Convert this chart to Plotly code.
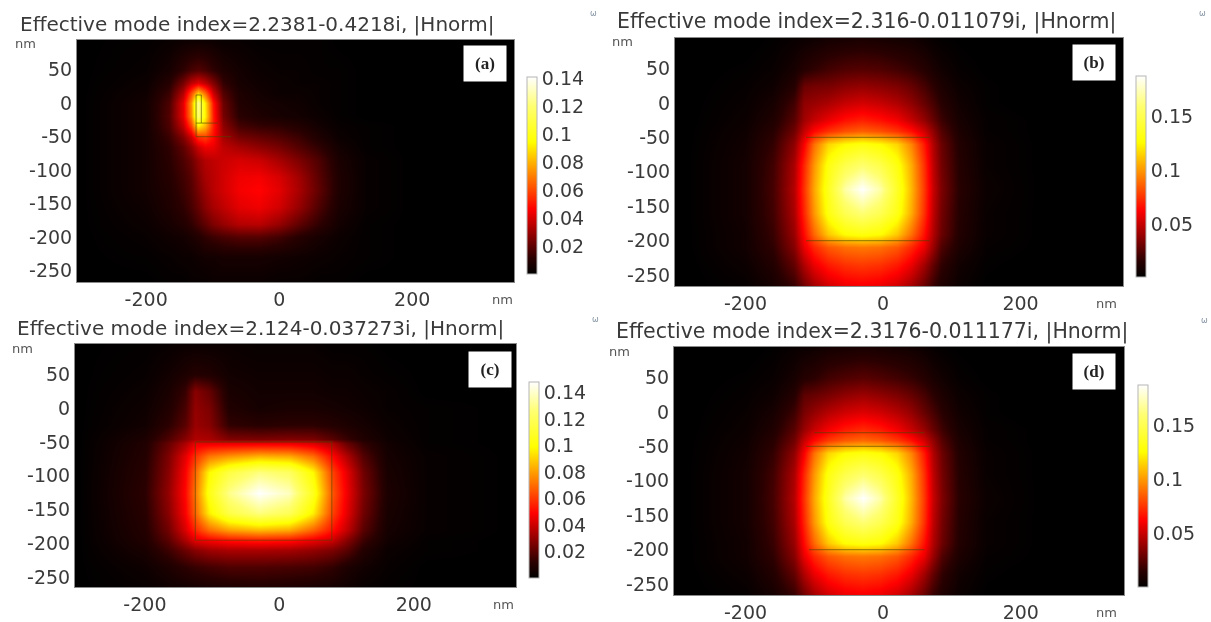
import plotly.graph_objects as go

W, H = 1211, 622
FONT = "DejaVu Sans"
TEXT = "#3a3a3a"

# --- data -----------------------------------------------------------------
COLORS = [[0, "#000000"], [0.08, "#2a0000"], [0.33, "#ff0000"], [0.5, "#ff8000"],
          [0.67, "#ffff00"], [0.85, "#ffff70"], [1, "#ffffff"]]

titles = ["Effective mode index=2.2381-0.4218i, |Hnorm|",
          "Effective mode index=2.316-0.011079i, |Hnorm|",
          "Effective mode index=2.124-0.037273i, |Hnorm|",
          "Effective mode index=2.3176-0.011177i, |Hnorm|"]
labels = ["(a)", "(b)", "(c)", "(d)"]
x_ticks = [-200, 0, 200]
x_tick_text = ["-200", "0", "200"]
y_ticks = [50, 0, -50, -100, -150, -200, -250]
y_tick_text = ["50", "0", "-50", "-100", "-150", "-200", "-250"]
cb_ticks_fine = [0.02, 0.04, 0.06, 0.08, 0.1, 0.12, 0.14]
cb_text_fine = ["0.02", "0.04", "0.06", "0.08", "0.1", "0.12", "0.14"]
cb_ticks_coarse = [0.05, 0.1, 0.15]
cb_text_coarse = ["0.05", "0.1", "0.15"]

xa = [-300, -200, -165, -145, -132, -122, -112, -100, -85, -60, -30, 0, 30, 60, 90, 130, 200, 350]
ya = [95, 50, 30, 15, 0, -20, -35, -50, -65, -85, -110, -130, -155, -180, -200, -230, -265]
za = [
    [0, .001, .002, .003, .003, .003, .003, .003, .002, .002, .001, .001, .001, .001, 0, 0, 0, 0],
    [0, .002, .006, .012, .016, .018, .016, .012, .008, .005, .003, .002, .002, .001, .001, 0, 0, 0],
    [0, .003, .010, .024, .036, .042, .036, .026, .013, .006, .004, .003, .002, .002, .001, 0, 0, 0],
    [0, .004, .014, .034, .060, .085, .066, .038, .018, .008, .005, .003, .003, .002, .001, 0, 0, 0],
    [0, .005, .017, .042, .074, .125, .090, .050, .022, .009, .006, .005, .004, .002, .001, 0, 0, 0],
    [0, .005, .018, .042, .072, .120, .092, .052, .024, .011, .008, .006, .005, .003, .001, 0, 0, 0],
    [0, .005, .017, .036, .058, .092, .080, .052, .028, .016, .013, .012, .009, .005, .002, .001, 0, 0],
    [0, .005, .014, .026, .038, .055, .058, .048, .032, .024, .021, .018, .014, .008, .003, .001, 0, 0],
    [0, .005, .012, .020, .028, .038, .044, .043, .036, .032, .028, .024, .018, .012, .005, .001, 0, 0],
    [0, .005, .011, .017, .022, .029, .034, .036, .038, .040, .038, .032, .025, .017, .007, .002, 0, 0],
    [0, .005, .010, .015, .019, .026, .032, .035, .039, .044, .045, .040, .031, .019, .008, .002, 0, 0],
    [0, .005, .009, .014, .018, .024, .030, .035, .039, .045, .047, .042, .032, .020, .008, .002, 0, 0],
    [0, .004, .008, .012, .016, .021, .027, .032, .036, .042, .044, .039, .029, .017, .007, .002, 0, 0],
    [0, .003, .006, .009, .012, .016, .020, .025, .029, .034, .035, .029, .020, .012, .005, .001, 0, 0],
    [0, .002, .004, .005, .007, .009, .012, .014, .016, .018, .018, .015, .010, .006, .003, .001, 0, 0],
    [0, .001, .002, .003, .003, .004, .005, .005, .006, .006, .006, .005, .004, .003, .002, .001, 0, 0],
    [0, 0, .001, .001, .002, .002, .002, .003, .003, .003, .003, .002, .002, .001, .001, 0, 0, 0],
]

xb = [-300, -200, -160, -130, -115, -100, -80, -55, -30, -5, 20, 40, 60, 72, 85, 110, 150, 230, 350]
yb = [95, 50, 25, 0, -25, -40, -60, -90, -125, -160, -190, -210, -235, -265]
zb = [
    [0, 0, .002, .004, .005, .006, .008, .009, .010, .009, .008, .007, .005, .003, .002, .001, 0, 0, 0],
    [0, .002, .004, .009, .014, .017, .021, .024, .025, .024, .021, .018, .014, .010, .007, .003, .001, 0, 0],
    [0, .003, .006, .014, .030, .032, .033, .037, .039, .037, .034, .029, .022, .016, .011, .005, .002, 0, 0],
    [0, .004, .009, .021, .038, .040, .044, .050, .053, .050, .045, .038, .029, .022, .015, .007, .002, 0, 0],
    [0, .005, .012, .026, .042, .050, .058, .066, .070, .066, .060, .050, .039, .029, .020, .009, .003, .001, 0],
    [0, .006, .015, .031, .050, .064, .074, .082, .086, .082, .075, .066, .052, .038, .025, .011, .003, .001, 0],
    [0, .007, .018, .038, .062, .090, .115, .125, .130, .125, .115, .095, .068, .045, .030, .013, .004, .001, 0],
    [0, .008, .021, .044, .072, .100, .130, .148, .158, .148, .130, .105, .074, .048, .032, .014, .004, .001, 0],
    [0, .008, .022, .046, .075, .104, .135, .170, .187, .170, .137, .108, .076, .050, .034, .015, .005, .001, 0],
    [0, .008, .021, .044, .072, .100, .130, .150, .160, .150, .132, .105, .074, .048, .032, .014, .004, .001, 0],
    [0, .007, .019, .040, .065, .088, .112, .126, .130, .126, .112, .090, .066, .045, .030, .013, .004, .001, 0],
    [0, .007, .017, .036, .058, .072, .084, .090, .092, .090, .084, .072, .058, .040, .024, .011, .003, .001, 0],
    [0, .005, .013, .028, .045, .058, .068, .074, .076, .074, .068, .058, .042, .028, .017, .007, .002, 0, 0],
    [0, .003, .009, .019, .032, .043, .053, .059, .061, .059, .053, .043, .030, .019, .012, .005, .001, 0, 0],
]

xc = [-300, -200, -165, -140, -125, -105, -75, -30, 15, 50, 78, 100, 125, 160, 220, 350]
yc = [95, 50, 25, 0, -25, -45, -52, -70, -95, -125, -155, -180, -195, -210, -235, -265]
zc = [
    [0, .001, .002, .003, .003, .003, .003, .002, .002, .002, .001, .001, .001, 0, 0, 0],
    [0, .002, .005, .008, .010, .009, .005, .004, .004, .004, .003, .003, .002, .001, 0, 0],
    [0, .003, .007, .014, .028, .022, .007, .005, .005, .005, .004, .004, .003, .002, 0, 0],
    [0, .004, .009, .017, .030, .026, .009, .006, .007, .007, .006, .005, .004, .002, .001, 0],
    [0, .005, .012, .020, .031, .028, .013, .011, .012, .012, .010, .008, .006, .003, .001, 0],
    [0, .008, .018, .028, .035, .034, .027, .026, .027, .026, .020, .014, .009, .004, .001, 0],
    [0, .009, .022, .034, .045, .045, .045, .045, .045, .042, .035, .022, .013, .005, .001, 0],
    [0, .010, .026, .044, .058, .072, .078, .084, .082, .070, .050, .035, .019, .006, .002, 0],
    [0, .011, .028, .048, .068, .098, .115, .128, .122, .098, .062, .044, .024, .007, .002, 0],
    [0, .012, .030, .050, .072, .104, .130, .148, .138, .106, .066, .046, .026, .008, .002, 0],
    [0, .011, .028, .048, .068, .096, .116, .128, .120, .096, .062, .044, .024, .007, .002, 0],
    [0, .010, .024, .042, .056, .070, .080, .085, .082, .068, .052, .038, .020, .006, .002, 0],
    [0, .009, .020, .034, .044, .048, .052, .054, .052, .046, .040, .028, .015, .005, .001, 0],
    [0, .007, .015, .023, .028, .032, .034, .034, .033, .030, .026, .020, .010, .003, .001, 0],
    [0, .004, .008, .012, .014, .016, .018, .018, .017, .016, .013, .008, .005, .002, 0, 0],
    [0, .002, .004, .005, .006, .007, .008, .009, .008, .007, .006, .004, .002, .001, 0, 0],
]

xd = [-300, -200, -160, -130, -115, -100, -80, -55, -30, -5, 20, 40, 60, 72, 85, 110, 150, 230, 350]
yd = [95, 50, 25, 0, -25, -40, -60, -90, -125, -160, -190, -210, -235, -265]
zd = [
    [0, 0, .002, .004, .005, .006, .008, .009, .010, .009, .008, .007, .005, .003, .002, .001, 0, 0, 0],
    [0, .002, .004, .009, .014, .016, .021, .024, .026, .024, .021, .018, .014, .010, .007, .003, .001, 0, 0],
    [0, .003, .006, .014, .027, .029, .033, .038, .041, .038, .034, .029, .022, .016, .011, .005, .002, 0, 0],
    [0, .004, .009, .020, .033, .039, .046, .052, .055, .052, .046, .039, .029, .022, .015, .007, .002, 0, 0],
    [0, .005, .012, .026, .040, .050, .060, .068, .072, .068, .060, .050, .039, .029, .020, .009, .003, .001, 0],
    [0, .006, .015, .031, .050, .064, .076, .084, .088, .084, .076, .066, .052, .038, .025, .011, .003, .001, 0],
    [0, .007, .018, .038, .062, .090, .115, .126, .130, .126, .115, .095, .068, .045, .030, .013, .004, .001, 0],
    [0, .008, .021, .044, .072, .100, .130, .148, .158, .148, .130, .105, .074, .048, .032, .014, .004, .001, 0],
    [0, .008, .022, .046, .075, .104, .135, .170, .187, .170, .137, .108, .076, .050, .034, .015, .005, .001, 0],
    [0, .008, .021, .044, .072, .100, .130, .150, .160, .150, .132, .105, .074, .048, .032, .014, .004, .001, 0],
    [0, .007, .019, .040, .065, .088, .112, .126, .130, .126, .112, .090, .066, .045, .030, .013, .004, .001, 0],
    [0, .007, .017, .036, .058, .072, .084, .090, .092, .090, .084, .072, .058, .040, .024, .011, .003, .001, 0],
    [0, .005, .013, .028, .045, .058, .068, .074, .076, .074, .068, .058, .042, .028, .017, .007, .002, 0, 0],
    [0, .003, .009, .019, .032, .043, .053, .059, .061, .059, .053, .043, .030, .019, .012, .005, .001, 0, 0],
]

# waveguide outlines, nm (None separates segments)
edge_xa = [-125, -125, None, -117, -117, None, -125, -117, None, -125, -117, None, -117, -92, None, -125, -72]
edge_ya = [12, -50, None, 12, -30, None, 12, 12, None, -30, -30, None, -30, -30, None, -50, -50]
edge_xb = [-112, 68, None, -112, 68]
edge_yb = [-50, -50, None, -200, -200]
edge_xc = [-125, 78, 78, -125, -125]
edge_yc = [-50, -50, -195, -195, -50]
edge_xd = [-100, 60, None, -112, 68, None, -108, 60]
edge_yd = [-30, -30, None, -50, -50, None, -200, -200]

# --- layout per panel (pixel boxes) ----------------------------------------
panels = [
    dict(x=xa, y=ya, z=za, ex=edge_xa, ey=edge_ya, box=(77, 514, 40, 282), xr=(-304, 353), yr=(-267, 94),
         cb=(527, 77, 274), zr=(0, 0.141), ct=cb_ticks_fine, cl=cb_text_fine, ts=20,
         tx=18, ty=24, lab=(485, 64), nm1=(25, 44), nm2=(502, 299), dot=(593, 14)),
    dict(x=xb, y=yb, z=zb, ex=edge_xb, ey=edge_yb, box=(675, 1123, 38, 286), xr=(-302.5, 349), yr=(-266, 94.6),
         cb=(1136, 76, 277), zr=(0.001, 0.187), ct=cb_ticks_coarse, cl=cb_text_coarse, ts=20.5,
         tx=615, ty=22, lab=(1094, 62), nm1=(622, 42), nm2=(1106, 303), dot=(1202, 13)),
    dict(x=xc, y=yc, z=zc, ex=edge_xc, ey=edge_yc, box=(75, 516, 344, 587), xr=(-304, 352), yr=(-264, 94.5),
         cb=(529, 382, 578), zr=(0, 0.148), ct=cb_ticks_fine, cl=cb_text_fine, ts=20,
         tx=15, ty=328, lab=(490, 369), nm1=(22, 348), nm2=(503, 604), dot=(595, 319)),
    dict(x=xd, y=yd, z=zd, ex=edge_xd, ey=edge_yd, box=(674, 1124, 347, 595), xr=(-304, 350), yr=(-266, 94.6),
         cb=(1138, 385, 587), zr=(0.001, 0.187), ct=cb_ticks_coarse, cl=cb_text_coarse, ts=20.5,
         tx=614, ty=331, lab=(1094, 371), nm1=(620, 351), nm2=(1106, 612), dot=(1204, 321)),
]

fig = go.Figure()
layout = {}
annots = []


def px(v):
    return v / W


def py(v):
    return 1 - v / H


for i, p in enumerate(panels):
    n = i + 1
    sfx = "" if n == 1 else str(n)
    x0, x1, y0, y1 = p["box"]
    cx, ct_y, cb_y = p["cb"]
    fig.add_trace(go.Heatmap(
        x=p["x"], y=p["y"], z=p["z"], zmin=p["zr"][0], zmax=p["zr"][1], zsmooth="best",
        colorscale=COLORS, xaxis="x" + sfx, yaxis="y" + sfx, hoverinfo="skip",
        colorbar=dict(x=px(cx), xanchor="left", y=py(cb_y), yanchor="bottom",
                      len=cb_y - ct_y, lenmode="pixels", thickness=10, thicknessmode="pixels",
                      xpad=0, ypad=0, outlinewidth=1, outlinecolor="#b5b5b5",
                      tickvals=p["ct"], ticktext=p["cl"], ticks="",
                      tickfont=dict(family=FONT, size=19, color=TEXT)),
    ))
    fig.add_trace(go.Scatter(
        x=p["ex"], y=p["ey"], mode="lines", line=dict(color="rgba(70,70,0,0.5)", width=1.2),
        xaxis="x" + sfx, yaxis="y" + sfx, showlegend=False, hoverinfo="skip",
    ))
    layout["xaxis" + sfx] = dict(
        domain=[px(x0), px(x1)], range=list(p["xr"]), anchor="y" + sfx, tickvals=x_ticks, ticktext=x_tick_text,
        ticks="", showgrid=False, zeroline=False, showline=True, mirror=True, linecolor="#8a8a8a",
        linewidth=1, tickfont=dict(family=FONT, size=19, color=TEXT),
    )
    layout["yaxis" + sfx] = dict(
        domain=[py(y1), py(y0)], range=list(p["yr"]), anchor="x" + sfx, tickvals=y_ticks, ticktext=y_tick_text,
        ticks="", showgrid=False, zeroline=False, showline=True, mirror=True, linecolor="#8a8a8a",
        linewidth=1, tickfont=dict(family=FONT, size=19, color=TEXT),
    )
    annots.append(dict(text=titles[i], x=px(p["tx"]), y=py(p["ty"]), xref="paper", yref="paper",
                       xanchor="left", yanchor="middle", showarrow=False,
                       font=dict(family=FONT, size=p["ts"], color=TEXT)))
    annots.append(dict(text="<b>%s</b>" % labels[i], x=px(p["lab"][0]), y=py(p["lab"][1]), xref="paper",
                       yref="paper", xanchor="center", yanchor="middle", showarrow=False,
                       bgcolor="white", width=40, height=33,
                       font=dict(family="Liberation Serif", size=17, color="#222222")))
    for nm in (p["nm1"], p["nm2"]):
        annots.append(dict(text="nm", x=px(nm[0]), y=py(nm[1]), xref="paper", yref="paper",
                           xanchor="center", yanchor="middle", showarrow=False,
                           font=dict(family=FONT, size=13, color="#555555")))
    annots.append(dict(text="ω", x=px(p["dot"][0]), y=py(p["dot"][1]), xref="paper", yref="paper",
                       xanchor="center", yanchor="middle", showarrow=False,
                       font=dict(family=FONT, size=8, color="#8090a0")))

fig.update_layout(width=W, height=H, margin=dict(l=0, r=0, t=0, b=0), paper_bgcolor="white",
                  plot_bgcolor="black", showlegend=False, annotations=annots, **layout)

fig.write_html("out.html", config={"displayModeBar": False},
               post_script="document.body.style.margin='0';document.body.style.overflow='hidden';"
                           "document.body.style.filter='blur(0.6px)';")
